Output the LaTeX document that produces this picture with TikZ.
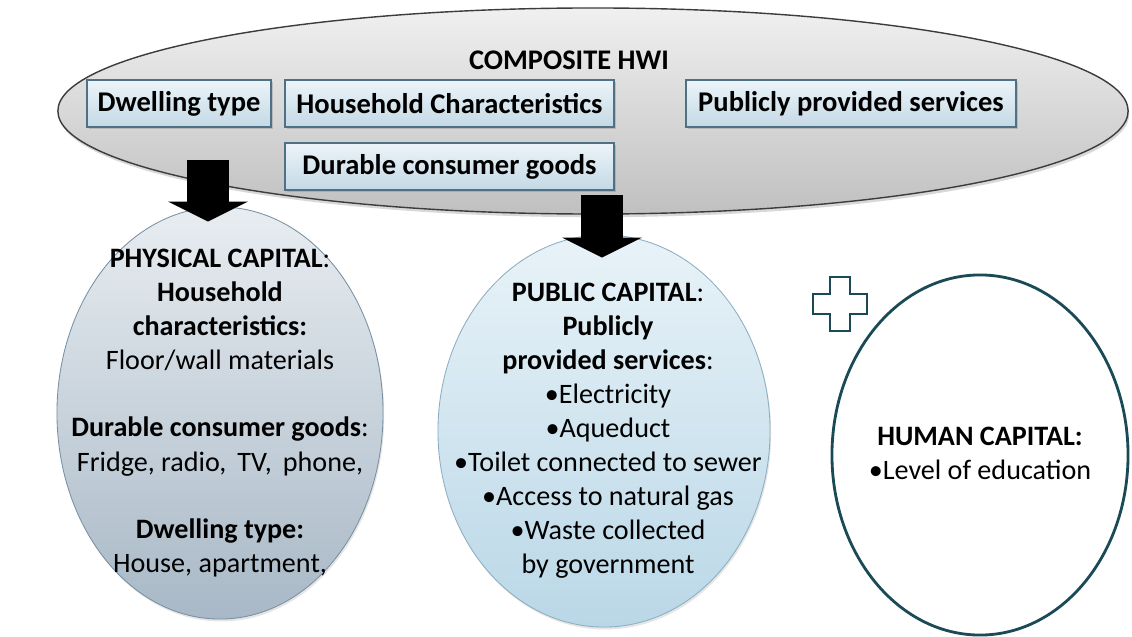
\documentclass[tikz,border=0pt]{standalone}
\usepackage{fontspec}
\setmainfont{Carlito}
\usepackage{tikz}
\usetikzlibrary{
  shapes.geometric,
  arrows.meta,
  positioning,
  shadows
}
\definecolor{IndexTop}{RGB}{240, 240, 240}
\definecolor{IndexBottom}{RGB}{192, 192, 192}
\definecolor{IndexEdge}{RGB}{60, 60, 60}
\definecolor{BoxTop}{RGB}{236, 244, 249}
\definecolor{BoxBottom}{RGB}{196, 217, 229}
\definecolor{BoxEdge}{RGB}{80, 112, 134}
\definecolor{PhysTop}{RGB}{232, 237, 241}
\definecolor{PhysBottom}{RGB}{168, 184, 198}
\definecolor{PhysEdge}{RGB}{120, 144, 162}
\definecolor{PublTop}{RGB}{232, 243, 248}
\definecolor{PublBottom}{RGB}{186, 215, 231}
\definecolor{PublEdge}{RGB}{140, 174, 192}
\definecolor{HumanEdge}{RGB}{27, 74, 87}

\begin{document}
\begin{tikzpicture}[x=0.025cm, y=-0.025cm,
    capital/.style={ellipse, inner sep=0pt},
    hwibox/.style={rectangle, draw=BoxEdge, line width=0.8pt, top color=BoxTop, bottom color=BoxBottom,
        minimum height=1.175cm, inner sep=0pt, font=\fontsize{20.3}{24}\selectfont\bfseries,
        drop shadow={shadow xshift=0.04cm, shadow yshift=-0.05cm, opacity=0.35}},
    captext/.style={align=center, font=\fontsize{20}{24.2}\selectfont},
    blockarrow/.style={line width=1.05cm, line cap=butt, -{Triangle[width=2cm, length=0.5cm, line width=0pt]}}
]
    \fill[white] (0,0) rectangle (1132,637);
    \useasboundingbox (0,0) rectangle (1132,637);

    % the composite index and its four groups
    \node[capital, draw=IndexEdge, line width=1pt, top color=IndexTop, bottom color=IndexBottom,
        minimum width=26.75cm, minimum height=5.15cm,
        drop shadow={shadow xshift=0.03cm, shadow yshift=-0.08cm, opacity=0.3}] (hwi) at (593,111) {};
    \node[font=\fontsize{20.2}{24}\selectfont\bfseries] (title) at (569,60) {COMPOSITE HWI};
    \node[hwibox, minimum width=4.6cm] (dwell) at (179,103.5) {Dwelling type};
    \node[hwibox, minimum width=8.225cm] (house) at (449.5,103.5) {Household Characteristics};
    \node[hwibox, minimum width=8.25cm] (serv) at (851,103.5) {Publicly provided services};
    \node[hwibox, minimum width=8.225cm] (goods) at (449.5,166.5) {Durable consumer goods};

    % capitals
    \node[capital, draw=PhysEdge, line width=0.6pt, top color=PhysTop, bottom color=PhysBottom,
        minimum width=8.15cm, minimum height=10.3cm,
        drop shadow={shadow xshift=0.03cm, shadow yshift=-0.06cm, opacity=0.2}] (phys) at (220,413) {};
    \node[captext] (phystxt) at (phys.center) {%
        \textbf{PHYSICAL CAPITAL}:\\
        \textbf{Household}\\
        \textbf{characteristics:}\\
        Floor/wall materials\\[24pt]
        \textbf{Durable consumer goods}:\\
        Fridge, radio,\, TV,\, phone,\\[24pt]
        \textbf{Dwelling type:}\\
        House, apartment,};

    \node[capital, draw=PublEdge, line width=0.6pt, top color=PublTop, bottom color=PublBottom,
        minimum width=8.3cm, minimum height=9.8cm,
        drop shadow={shadow xshift=0.03cm, shadow yshift=-0.06cm, opacity=0.2}] (publ) at (604,431) {};
    \node[captext] (publtxt) at ([xshift=0.1cm]publ.center) {%
        \textbf{PUBLIC CAPITAL}:\\
        \textbf{Publicly}\\
        \textbf{provided services}:\\
        •Electricity\\
        •Aqueduct\\
        •Toilet connected to sewer\\
        •Access to natural gas\\
        •Waste collected\\
        by government};

    \node[capital, draw=HumanEdge, line width=2pt, fill=white,
        minimum width=7.4cm, minimum height=9cm] (human) at (980,455) {};
    \node[captext] (humantxt) at ([yshift=0.05cm]human.center) {%
        \textbf{HUMAN CAPITAL:}\\
        •Level of education};

    % block arrows into the capitals
    \coordinate (dropA) at (208,160);
    \coordinate (dropB) at (602,195);
    \draw[blockarrow, shorten >=-0.375cm] (dropA) -- (phys.north -| dropA);
    \draw[blockarrow, shorten >=-0.575cm] (dropB) -- (publ.north -| dropB);

    % plus sign
    \coordinate (plus) at (840,304);
    \draw[HumanEdge, line width=1.6pt, fill=white, line join=miter] (plus) ++(-10,-27) -- ++(20,0) -- ++(0,17)
        -- ++(17,0) -- ++(0,20) -- ++(-17,0) -- ++(0,17) -- ++(-20,0) -- ++(0,-17) -- ++(-17,0) -- ++(0,-20)
        -- ++(17,0) -- cycle;
\end{tikzpicture}
\end{document}
